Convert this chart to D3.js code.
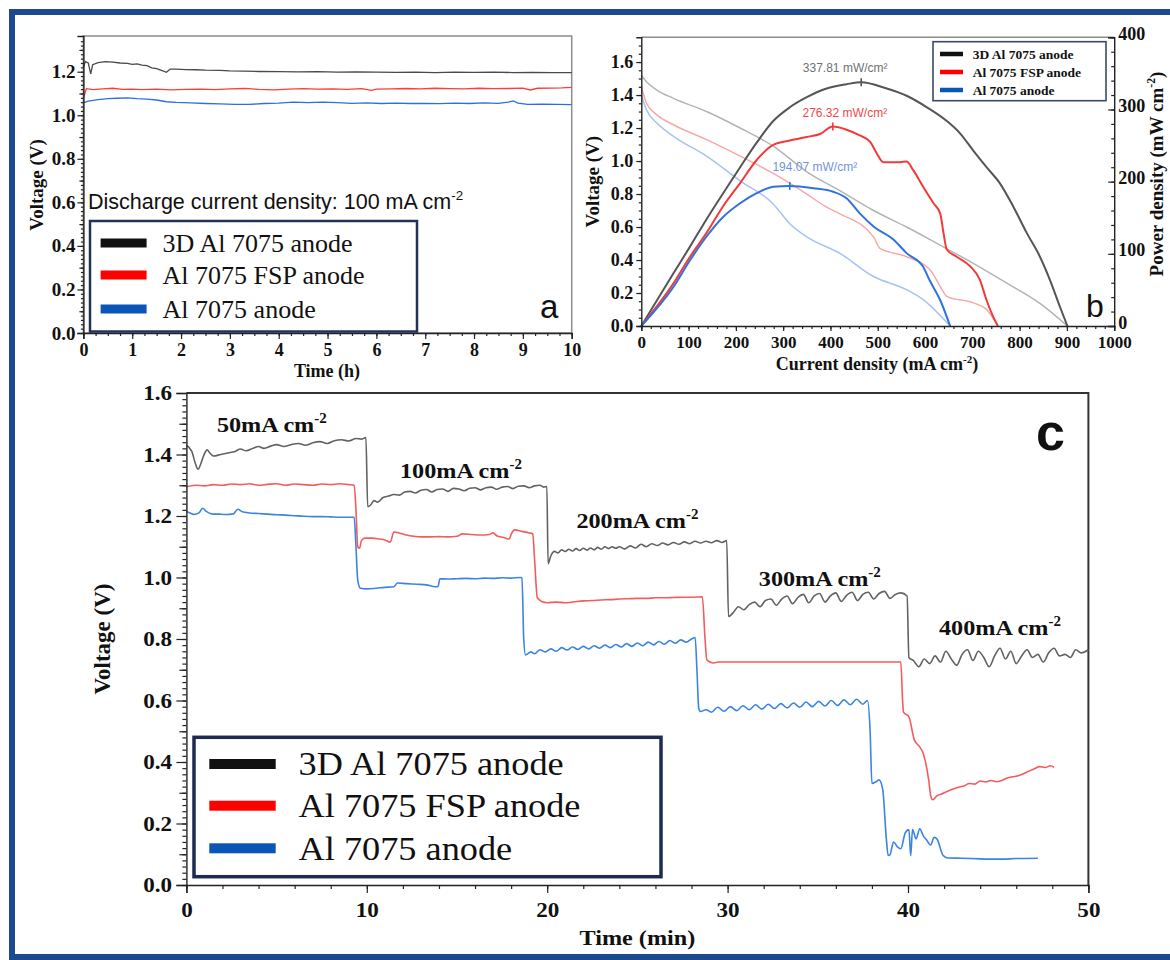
<!DOCTYPE html>
<html>
<head>
<meta charset="utf-8">
<script src="https://cdn.jsdelivr.net/npm/d3@7"></script>
<style>
  body { margin: 0; background: #fff; }
  text { font-family: 'Liberation Serif', 'Times New Roman', serif; fill: #111; }
  .sans { font-family: 'Liberation Sans', Arial, sans-serif; }
  .domain { stroke: #222; stroke-width: 1.4; }
  .tick line { stroke: #222; stroke-width: 1.2; }
</style>
</head>
<body>
<div id="chart"></div>
<script>
// ---------- panel a : discharge at 100 mA cm-2, time (h) vs voltage ----------
var aBlack = [[0,1.222],[0.04,1.246],[0.1,1.24],[0.15,1.19],[0.19,1.232],[0.3,1.242],[0.45,1.246],[0.6,1.244],
  [0.75,1.24],[0.9,1.238],[1.0,1.234],[1.1,1.236],[1.2,1.23],[1.3,1.228],[1.4,1.218],[1.5,1.214],[1.6,1.206],
  [1.7,1.197],[1.78,1.212],[1.9,1.212],[2.1,1.21],[2.3,1.209],[2.5,1.207],[2.8,1.206],[3.0,1.204],[3.3,1.203],
  [3.6,1.201],[4.0,1.2],[4.4,1.199],[4.8,1.2],[5.2,1.198],[5.6,1.199],[6.0,1.198],[6.4,1.197],[6.8,1.198],
  [7.2,1.196],[7.6,1.198],[8.0,1.197],[8.4,1.198],[8.8,1.196],[9.2,1.197],[9.6,1.196],[10,1.196]]
var aRed = [[0,1.08],[0.03,1.1],[0.06,1.122],[0.2,1.118],[0.4,1.121],[0.6,1.124],[0.8,1.119],[1.0,1.12],
  [1.2,1.118],[1.5,1.12],[1.8,1.117],[2.1,1.119],[2.4,1.12],[2.7,1.118],[3.0,1.121],[3.3,1.123],[3.6,1.119],
  [3.9,1.117],[4.2,1.12],[4.5,1.122],[4.8,1.12],[5.1,1.121],[5.4,1.119],[5.7,1.122],[5.9,1.114],[6.0,1.12],
  [6.3,1.121],[6.6,1.123],[6.9,1.121],[7.2,1.124],[7.5,1.122],[7.8,1.121],[8.1,1.124],[8.4,1.122],[8.7,1.123],
  [9.0,1.125],[9.15,1.116],[9.3,1.124],[9.6,1.125],[9.8,1.126],[10,1.128]]
var aBlue = [[0,1.057],[0.1,1.065],[0.3,1.072],[0.5,1.076],[0.7,1.078],[0.9,1.08],[1.1,1.076],[1.3,1.074],
  [1.5,1.07],[1.7,1.062],[1.9,1.059],[2.2,1.057],[2.5,1.054],[2.8,1.052],[3.1,1.05],[3.4,1.05],[3.7,1.054],
  [4.0,1.056],[4.3,1.06],[4.6,1.058],[4.9,1.06],[5.2,1.058],[5.5,1.055],[5.8,1.057],[6.1,1.054],[6.4,1.056],
  [6.7,1.054],[7.0,1.055],[7.3,1.053],[7.6,1.056],[7.9,1.054],[8.2,1.057],[8.5,1.055],[8.7,1.06],[8.8,1.066],
  [8.9,1.056],[9.1,1.05],[9.4,1.051],[9.7,1.05],[10,1.049]]
var aTimeTicks = [0,1,2,3,4,5,6,7,8,9,10]
var aVoltTicks = [0,0.2,0.4,0.6,0.8,1.0,1.2]

// ---------- panel b : polarization (voltage) and power density vs current ----------
var bBlackV = [[0,1.52],[11,1.48],[33,1.43],[68,1.38],[138,1.3],[209,1.2],[279,1.09],[350,0.935],[420,0.82],
  [491,0.7],[561,0.6],[632,0.49],[702,0.38],[773,0.26],[843,0.137],[901,0]]
var bRedV = [[0,1.45],[11,1.35],[33,1.28],[68,1.22],[138,1.13],[209,1.03],[279,0.925],[350,0.8],[392,0.72],
  [420,0.68],[491,0.54],[505,0.47],[561,0.42],[611,0.34],[632,0.24],[646,0.18],[702,0.14],[730,0.1],[754,0]]
var bBlueV = [[0,1.4],[11,1.31],[33,1.23],[68,1.15],[138,1.03],[209,0.88],[279,0.74],[314,0.62],[350,0.54],
  [420,0.44],[491,0.3],[561,0.22],[596,0.16],[653,0]]
var bBlackP = [[0,0],[68,73],[103,110],[138,148],[181,192],[209,220],[244,254],[279,284],[314,303],[350,317],
  [392,329],[434,335],[465,337.8],[519,329],[561,319],[604,303],[646,284],[674,267],[702,243],[730,220],
  [758,198],[787,165],[815,129],[843,96],[864,64],[885,27],[901,0]]
var bRedP = [[0,0],[68,59],[103,96],[138,129],[173,166],[209,198],[244,230],[279,251],[314,257],[350,262],
  [378,266],[405,276.3],[434,272],[462,264],[484,255],[498,239],[512,227],[547,227],[561,228],[575,216],
  [596,193],[618,170],[632,156],[639,129],[646,106],[667,96],[695,83],[716,64],[730,36],[744,13],[754,0]]
var bBlueP = [[0,0],[68,54],[103,91],[138,124],[173,151],[209,170],[244,184],[279,193],[314,194.1],[364,191],
  [406,186],[434,177],[462,156],[491,138],[533,120],[561,101],[596,82],[610,63],[632,36],[653,0]]
var bPeaks = [[465,337.81],[405,276.32],[314,194.07]]
var bPeakLabels = ['337.81 mW/cm²','276.32 mW/cm²','194.07 mW/cm²']
var bCurrentTicks = [0,100,200,300,400,500,600,700,800,900,1000]
var bVoltTicks = [0,0.2,0.4,0.6,0.8,1.0,1.2,1.4,1.6]
var bPowerTicks = [0,100,200,300,400]

// ---------- panel c : stepped current discharge, time (min) vs voltage ----------
var cBlack = [[0,1.43],[0.3,1.41],[0.5,1.37],[0.65,1.352],[0.8,1.37],[0.95,1.395],[1.15,1.415],[1.3,1.405],
  [1.5,1.395],[1.9,1.4],[2.3,1.405],[2.7,1.41],[3.0,1.418],[3.3,1.412],[3.7,1.42],[4.0,1.426],[4.3,1.42],
  [4.7,1.428],[5.0,1.432],[5.4,1.426],[5.8,1.432],[6.2,1.436],[6.6,1.43],[7.0,1.438],[7.4,1.442],[7.8,1.436],
  [8.2,1.445],[8.6,1.448],[9.0,1.444],[9.4,1.452],[9.7,1.45],[9.95,1.455],
  [10.05,1.23],[10.2,1.235],[10.4,1.25],[10.6,1.245],[10.9,1.26],[11.2,1.265],[11.5,1.27],[11.8,1.268],
  [12.1,1.278],[12.4,1.28],[12.7,1.275],[13.0,1.284],[13.3,1.286],[13.6,1.278],[13.9,1.286],[14.2,1.288],
  [14.5,1.28],[14.8,1.29],[15.1,1.288],[15.4,1.282],[15.7,1.29],[16.0,1.292],[16.3,1.285],[16.6,1.292],
  [16.9,1.294],[17.2,1.287],[17.5,1.294],[17.8,1.296],[18.1,1.289],[18.4,1.297],[18.7,1.298],[19.0,1.292],
  [19.3,1.298],[19.6,1.3],[19.8,1.294],[19.98,1.296],
  [20.05,1.045],[20.2,1.07],[20.4,1.085],[20.6,1.08],[20.8,1.09],[21.0,1.085],[21.2,1.092],[21.4,1.086],
  [21.6,1.094],[21.8,1.088],[22.0,1.095],[22.2,1.089],[22.4,1.096],[22.6,1.09],[22.8,1.098],[23.0,1.092],
  [23.2,1.1],[23.4,1.094],[23.6,1.1],[23.8,1.095],[24.0,1.1],[24.3,1.093],[24.6,1.103],[24.9,1.096],
  [25.2,1.108],[25.5,1.1],[25.8,1.11],[26.1,1.104],[26.4,1.112],[26.7,1.106],[27.0,1.114],[27.3,1.108],
  [27.6,1.116],[27.9,1.11],[28.2,1.118],[28.5,1.112],[28.8,1.118],[29.1,1.113],[29.4,1.12],[29.7,1.114],
  [29.95,1.12],
  [30.05,0.873],[30.3,0.885],[30.6,0.905],[30.9,0.895],[31.2,0.912],[31.5,0.92],[31.8,0.905],[32.1,0.925],
  [32.4,0.93],[32.7,0.91],[33.0,0.93],[33.3,0.94],[33.6,0.915],[33.9,0.935],[34.2,0.945],[34.5,0.918],
  [34.8,0.94],[35.1,0.948],[35.4,0.92],[35.7,0.94],[36.0,0.95],[36.3,0.922],[36.6,0.942],[36.9,0.952],
  [37.2,0.925],[37.5,0.945],[37.8,0.952],[38.1,0.93],[38.4,0.948],[38.7,0.955],[39.0,0.932],[39.3,0.945],
  [39.6,0.95],[39.95,0.94],
  [40.05,0.74],[40.3,0.73],[40.6,0.71],[40.9,0.735],[41.2,0.72],[41.5,0.745],[41.8,0.725],[42.1,0.76],
  [42.4,0.735],[42.7,0.715],[43.0,0.75],[43.3,0.765],[43.6,0.73],[43.9,0.76],[44.2,0.74],[44.5,0.71],
  [44.8,0.745],[45.1,0.77],[45.4,0.735],[45.7,0.76],[46.0,0.72],[46.3,0.745],[46.6,0.765],[46.9,0.74],
  [47.2,0.75],[47.5,0.725],[47.8,0.755],[48.1,0.77],[48.4,0.745],[48.7,0.75],[49.0,0.74],[49.3,0.765],
  [49.6,0.755],[50,0.765]]
var cRed = [[0,1.295],[0.5,1.3],[1.0,1.298],[1.5,1.302],[2.0,1.3],[2.5,1.304],[3.0,1.302],[3.5,1.305],[4.0,1.3],
  [4.5,1.303],[5.0,1.305],[5.5,1.3],[6.0,1.304],[6.5,1.302],[7.0,1.3],[7.5,1.304],[8.0,1.302],[8.5,1.305],
  [9.0,1.302],[9.3,1.3],[9.4,1.22],[9.5,1.1],[9.6,1.095],[9.7,1.12],[9.9,1.128],[10.3,1.128],[10.7,1.125],
  [11.0,1.122],[11.3,1.115],[11.5,1.148],[11.8,1.145],[12.2,1.138],[12.6,1.134],[13.0,1.132],[13.5,1.132],
  [14.0,1.133],[14.5,1.132],[15.0,1.134],[15.3,1.142],[15.8,1.14],[16.3,1.138],[16.8,1.14],[17.0,1.145],
  [17.2,1.136],[17.6,1.13],[17.9,1.125],[18.0,1.14],[18.2,1.155],[18.6,1.15],[19.0,1.145],[19.2,1.142],
  [19.3,1.06],[19.45,0.935],[19.7,0.922],[20.0,0.918],[20.5,0.92],[21.0,0.918],[21.5,0.921],[22.0,0.924],
  [22.5,0.925],[23.0,0.927],[23.5,0.928],[24.0,0.93],[24.5,0.931],[25.0,0.932],[25.5,0.932],[26.0,0.934],
  [26.5,0.934],[27.0,0.935],[27.5,0.936],[28.0,0.936],[28.6,0.937],[28.75,0.8],[28.85,0.732],[29.2,0.722],
  [29.5,0.725],[30,0.725],[32,0.725],[34,0.725],[36,0.725],[38,0.725],[39.6,0.725],[39.7,0.6],[39.75,0.562],
  [40.05,0.547],[40.35,0.472],[40.65,0.449],[40.85,0.427],[41.15,0.34],[41.26,0.29],[41.37,0.277],[41.6,0.29],
  [41.87,0.296],[42.2,0.305],[42.5,0.312],[42.8,0.318],[43.1,0.322],[43.4,0.33],[43.7,0.328],[44.0,0.338],
  [44.3,0.335],[44.6,0.34],[44.9,0.336],[45.2,0.34],[45.5,0.348],[45.8,0.352],[46.1,0.355],[46.4,0.362],
  [46.7,0.37],[47.0,0.378],[47.3,0.385],[47.6,0.382],[47.9,0.388],[48.1,0.383]]
var cBlue = [[0,1.215],[0.2,1.21],[0.4,1.205],[0.7,1.21],[0.9,1.225],[1.1,1.215],[1.4,1.207],[1.8,1.206],
  [2.2,1.205],[2.6,1.207],[2.85,1.222],[3.1,1.214],[3.5,1.21],[4.0,1.208],[4.5,1.206],[5.0,1.204],[5.5,1.203],
  [6.0,1.201],[6.5,1.199],[7.0,1.198],[7.5,1.198],[8.0,1.197],[8.5,1.196],[9.0,1.196],[9.3,1.196],[9.4,1.1],
  [9.5,0.99],[9.65,0.965],[10.0,0.963],[10.5,0.965],[11.0,0.968],[11.5,0.97],[11.7,0.982],[12.2,0.98],
  [12.8,0.978],[13.3,0.976],[13.8,0.97],[13.95,0.971],[14.05,0.996],[14.5,0.995],[15.0,0.996],[15.5,0.997],
  [16.0,0.996],[16.5,0.998],[17.0,0.997],[17.5,0.999],[18.0,0.998],[18.5,1.0],[18.6,0.999],[18.7,0.8],
  [18.8,0.748],[19.1,0.758],[19.3,0.752],[19.6,0.765],[19.9,0.758],[20.2,0.768],[20.5,0.76],[20.8,0.772],
  [21.1,0.764],[21.4,0.774],[21.7,0.766],[22.0,0.776],[22.3,0.768],[22.6,0.778],[22.9,0.77],[23.2,0.78],
  [23.5,0.772],[23.8,0.782],[24.1,0.774],[24.4,0.785],[24.7,0.776],[25.0,0.787],[25.3,0.778],[25.6,0.79],
  [25.9,0.781],[26.2,0.792],[26.5,0.783],[26.8,0.795],[27.1,0.786],[27.4,0.797],[27.7,0.79],[28.0,0.8],
  [28.2,0.805],[28.3,0.7],[28.4,0.575],[28.5,0.564],[28.8,0.57],[29.1,0.562],[29.45,0.578],[29.8,0.565],
  [30.15,0.58],[30.5,0.567],[30.85,0.583],[31.2,0.57],[31.55,0.586],[31.9,0.572],[32.25,0.588],[32.6,0.574],
  [32.95,0.59],[33.3,0.576],[33.65,0.592],[34.0,0.578],[34.35,0.595],[34.7,0.58],[35.05,0.597],[35.4,0.582],
  [35.75,0.6],[36.1,0.584],[36.45,0.602],[36.8,0.586],[37.15,0.604],[37.5,0.588],[37.75,0.6],[37.9,0.5],
  [38.0,0.33],[38.23,0.336],[38.4,0.342],[38.6,0.31],[38.8,0.15],[38.9,0.096],[39.0,0.098],[39.2,0.14],
  [39.4,0.125],[39.6,0.118],[39.85,0.17],[40.05,0.18],[40.15,0.095],[40.25,0.18],[40.45,0.15],[40.65,0.183],
  [40.85,0.16],[41.05,0.145],[41.25,0.13],[41.45,0.155],[41.6,0.15],[41.95,0.096],[42.2,0.088],[43,0.087],
  [44,0.085],[45,0.084],[46,0.086],[47.2,0.087]]
var cSteps = ['50mA cm','100mA cm','200mA cm','300mA cm','400mA cm']
var cTimeTicks = [0,10,20,30,40,50]
var cVoltTicks = [0,0.2,0.4,0.6,0.8,1.0,1.2,1.4,1.6]

var legendNames = ['3D Al 7075 anode','Al 7075 FSP anode','Al 7075 anode']
var legendColors = ['#111','#ff0000','#0b55b8']

// ---------------------------------------------------------------------------
var width = 1170
var height = 960

var svg = d3.select('#chart').append('svg')
  .attr('width', width)
  .attr('height', height)

// blue frame round the whole figure (its right side runs off the page)
svg.append('rect')
  .attr('x', 12).attr('y', 12)
  .attr('width', 1180).attr('height', 945)
  .attr('fill', 'none')
  .attr('stroke', '#1b4b8e')
  .attr('stroke-width', 6)

function minor(g, axis, values, size) {
  g.append('g').call(axis.tickValues(values).tickSize(size).tickFormat(''))
    .select('.domain').remove()
}

function supText(t, base, s, size, after) {
  t.append('tspan').text(base)
  t.append('tspan').attr('dy', -size * 0.4).attr('font-size', size * 0.62).text(s)
  if (after) t.append('tspan').attr('dy', size * 0.4).text(after)
}

function legend(g, x, y, w, h, rows, lineX, lineW, lineH, textX, size, bold, stroke, sw) {
  g.append('rect').attr('x', x).attr('y', y).attr('width', w).attr('height', h)
    .attr('fill', '#fff').attr('stroke', stroke).attr('stroke-width', sw)
  legendNames.forEach(function(name, i) {
    g.append('rect').attr('x', lineX).attr('y', rows[i] - lineH / 2)
      .attr('width', lineW).attr('height', lineH).attr('fill', legendColors[i])
    g.append('text').attr('x', textX).attr('y', rows[i] + size * 0.34)
      .attr('font-size', size).attr('font-weight', bold ? 'bold' : 'normal').text(name)
  })
}

// ============================ panel a ============================
var ga = svg.append('g')
var xa = d3.scaleLinear().domain([0, 10]).range([83.4, 571.7])
var ya = d3.scaleLinear().domain([0, 1.364]).range([333, 36])
var lineA = d3.line().x(d => xa(d[0])).y(d => ya(d[1]))

ga.append('rect').attr('x', xa(0)).attr('y', ya(1.364))
  .attr('width', xa(10) - xa(0)).attr('height', ya(0) - ya(1.364))
  .attr('fill', 'none').attr('stroke', '#8c8c8c').attr('stroke-width', 1.5)

;[[aBlack, '#4a4a4a'], [aRed, '#ff3b3b'], [aBlue, '#2d6fe0']].forEach(function(s) {
  ga.append('path').datum(s[0]).attr('d', lineA)
    .attr('fill', 'none').attr('stroke', s[1]).attr('stroke-width', 1.3)
})

var aLeft = ga.append('g').attr('transform', 'translate(' + xa(0) + ',0)')
minor(aLeft, d3.axisLeft(ya), d3.range(0, 1.36, 0.02), 2.5)
minor(aLeft, d3.axisLeft(ya), d3.range(0.1, 1.36, 0.2), 4)
aLeft.append('g').call(d3.axisLeft(ya).tickValues(aVoltTicks).tickSize(6).tickPadding(2).tickFormat(d3.format('.1f')))
  .selectAll('text').attr('font-size', 19).attr('font-weight', 'bold').attr('font-family', 'Liberation Serif')

var aBottom = ga.append('g').attr('transform', 'translate(0,' + ya(0) + ')')
minor(aBottom, d3.axisBottom(xa), d3.range(0, 10.01, 0.25), 3)
aBottom.append('g').call(d3.axisBottom(xa).tickValues(aTimeTicks).tickSize(6).tickFormat(d3.format('d')))
  .selectAll('text').attr('y', 23).attr('dy', 0).attr('font-size', 18).attr('font-weight', 'bold')
  .attr('font-family', 'Liberation Serif')

ga.append('text').attr('x', 327).attr('y', 377).attr('text-anchor', 'middle')
  .attr('font-size', 18).attr('font-weight', 'bold').text('Time (h)')
ga.append('text').attr('transform', 'translate(43,' + ya(0.68) + ') rotate(-90)')
  .attr('text-anchor', 'middle').attr('font-size', 19).attr('font-weight', 'bold').text('Voltage (V)')

var dis = ga.append('text').attr('class', 'sans').attr('x', 88).attr('y', 209).attr('font-size', 21.5)
supText(dis, 'Discharge current density: 100 mA cm', '-2', 21.5)

legend(ga, 90, 221, 327, 110.5, [243, 275, 309], 100.6, 46, 9, 162.6, 26, false, '#233355', 2.5)

ga.append('text').attr('class', 'sans').attr('x', 540).attr('y', 318).attr('font-size', 33).text('a')

// ============================ panel b ============================
var gb = svg.append('g')
var xb = d3.scaleLinear().domain([0, 1000]).range([641.3, 1114.2])
var yb = d3.scaleLinear().domain([0, 1.75]).range([326, 37.3])
var yp = d3.scaleLinear().domain([0, 400]).range([326, 37.3])
var lineBV = d3.line().x(d => xb(d[0])).y(d => yb(d[1])).curve(d3.curveMonotoneX)
var lineBP = d3.line().x(d => xb(d[0])).y(d => yp(d[1])).curve(d3.curveMonotoneX)

gb.append('line').attr('x1', xb(0)).attr('x2', xb(1000)).attr('y1', yb(1.75)).attr('y2', yb(1.75))
  .attr('stroke', '#8c8c8c').attr('stroke-width', 1.5)

;[[bBlackV, '#b4b4b4'], [bRedV, '#f7a8a8'], [bBlueV, '#a6c3f2']].forEach(function(s) {
  gb.append('path').datum(s[0]).attr('d', lineBV)
    .attr('fill', 'none').attr('stroke', s[1]).attr('stroke-width', 1.5)
})
var pColors = ['#555', '#f23a3a', '#2f72dc']
;[bBlackP, bRedP, bBlueP].forEach(function(s, i) {
  gb.append('path').datum(s).attr('d', lineBP)
    .attr('fill', 'none').attr('stroke', pColors[i]).attr('stroke-width', 2)
})

var labelColors = ['#707070', '#f04848', '#6f95dc']
var labelShift = [[-16, -10], [12, -10], [25, -15]]
bPeaks.forEach(function(p, i) {
  gb.append('line').attr('x1', xb(p[0])).attr('x2', xb(p[0]))
    .attr('y1', yp(p[1]) - 4).attr('y2', yp(p[1]) + 4)
    .attr('stroke', pColors[i]).attr('stroke-width', 1.6)
  gb.append('text').attr('class', 'sans')
    .attr('x', xb(p[0]) + labelShift[i][0]).attr('y', yp(p[1]) + labelShift[i][1])
    .attr('text-anchor', 'middle').attr('font-size', 12).style('fill', labelColors[i])
    .text(bPeakLabels[i])
})

var bLeft = gb.append('g').attr('transform', 'translate(' + xb(0) + ',0)')
minor(bLeft, d3.axisLeft(yb), d3.range(0, 1.75, 0.05), 2.5)
bLeft.append('g').call(d3.axisLeft(yb).tickValues(bVoltTicks).tickSize(5).tickPadding(3).tickFormat(d3.format('.1f')))
  .selectAll('text').attr('font-size', 18).attr('font-weight', 'bold').attr('font-family', 'Liberation Serif')

var bRight = gb.append('g').attr('transform', 'translate(' + xb(1000) + ',0)')
minor(bRight, d3.axisRight(yp), d3.range(0, 401, 20), -3)
bRight.append('g').call(d3.axisRight(yp).tickValues(bPowerTicks).tickSize(-6).tickPadding(4).tickFormat(d3.format('d')))
  .selectAll('text').attr('dy', '0.12em').attr('font-size', 18).attr('font-weight', 'bold')
  .attr('font-family', 'Liberation Serif')

var bBottom = gb.append('g').attr('transform', 'translate(0,' + yb(0) + ')')
minor(bBottom, d3.axisBottom(xb), d3.range(0, 1001, 20), 3)
bBottom.append('g').call(d3.axisBottom(xb).tickValues(bCurrentTicks).tickSize(5).tickFormat(d3.format('d')))
  .selectAll('text').attr('y', 22).attr('dy', 0).attr('font-size', 17).attr('font-weight', 'bold')
  .attr('font-family', 'Liberation Serif')

var bx = gb.append('text').attr('x', 877).attr('y', 370).attr('text-anchor', 'middle')
  .attr('font-size', 18).attr('font-weight', 'bold')
supText(bx, 'Current density (mA cm', '-2', 18, ')')
gb.append('text').attr('transform', 'translate(599,' + yb(0.875) + ') rotate(-90)')
  .attr('text-anchor', 'middle').attr('font-size', 19).attr('font-weight', 'bold').text('Voltage (V)')
var by = gb.append('text').attr('transform', 'translate(1163,174) rotate(-90)')
  .attr('text-anchor', 'middle').attr('font-size', 19).attr('font-weight', 'bold')
supText(by, 'Power density (mW cm', '-2', 19, ')')

legend(gb, 933, 41.7, 173, 59, [54, 72, 90], 940, 23, 4.5, 972.7, 13.5, true, '#3a4a6b', 1.6)

gb.append('text').attr('class', 'sans').attr('x', 1086).attr('y', 317).attr('font-size', 32).text('b')

// ============================ panel c ============================
var gc = svg.append('g')
var xc = d3.scaleLinear().domain([0, 50]).range([186.4, 1088.4])
var yc = d3.scaleLinear().domain([0, 1.6]).range([885, 393])
var lineC = d3.line().x(d => xc(d[0])).y(d => yc(d[1])).curve(d3.curveMonotoneX)
var sx = 'scale(1.1,1)'   // panel c lettering is a little wider than plain Times

gc.append('path')
  .attr('d', 'M' + xc(0) + ',' + yc(1.6) + 'H' + xc(50) + 'V' + yc(0))
  .attr('fill', 'none').attr('stroke', '#333').attr('stroke-width', 2)

;[[cBlack, '#626262'], [cRed, '#f45c5c'], [cBlue, '#3b84e6']].forEach(function(s) {
  gc.append('path').datum(s[0]).attr('d', lineC)
    .attr('fill', 'none').attr('stroke', s[1]).attr('stroke-width', 1.6)
})

var cLeft = gc.append('g').attr('transform', 'translate(' + xc(0) + ',0)')
minor(cLeft, d3.axisLeft(yc), d3.range(0, 1.6, 0.02), 4)
minor(cLeft, d3.axisLeft(yc), d3.range(0.1, 1.6, 0.2), 7)
cLeft.append('g').call(d3.axisLeft(yc).tickValues(cVoltTicks).tickSize(10).tickPadding(3).tickFormat(d3.format('.1f')))
  .selectAll('text').attr('font-size', 21).attr('font-weight', 'bold').attr('font-family', 'Liberation Serif')
  .attr('transform', sx)
cLeft.selectAll('.domain').attr('stroke-width', 2)

var cBottom = gc.append('g').attr('transform', 'translate(0,' + yc(0) + ')')
minor(cBottom, d3.axisBottom(xc), d3.range(0, 50.1, 2), 4)
cBottom.append('g').call(d3.axisBottom(xc).tickValues(cTimeTicks).tickSize(8).tickFormat(d3.format('d')))
  .selectAll('text').attr('y', 32).attr('dy', 0).attr('font-size', 21).attr('font-weight', 'bold')
  .attr('font-family', 'Liberation Serif').attr('transform', sx)
cBottom.selectAll('.domain').attr('stroke-width', 2)

gc.append('text').attr('transform', 'translate(' + xc(25) + ',945) ' + sx)
  .attr('text-anchor', 'middle').attr('font-size', 22).attr('font-weight', 'bold').text('Time (min)')
gc.append('text').attr('transform', 'translate(110,' + yc(0.8) + ') rotate(-90)')
  .attr('text-anchor', 'middle').attr('font-size', 23).attr('font-weight', 'bold').text('Voltage (V)')

var stepPos = [[1.69, 1.474], [11.84, 1.324], [21.62, 1.161], [31.73, 0.972], [41.72, 0.813]]
cSteps.forEach(function(s, i) {
  var t = gc.append('text')
    .attr('transform', 'translate(' + xc(stepPos[i][0]) + ',' + yc(stepPos[i][1]) + ') ' + sx)
    .attr('font-size', 22).attr('font-weight', 'bold')
  supText(t, s, '-2', 22)
})

var cl = gc.append('g')
legend(cl, 194, 737.3, 467, 139.4, [764, 805.7, 848.3], 209.3, 66.4, 10, 298.6, 33, false, '#1c2b4f', 3.5)
cl.selectAll('text').each(function() {
  var t = d3.select(this)
  t.attr('transform', 'translate(' + t.attr('x') + ',' + t.attr('y') + ') ' + sx).attr('x', 0).attr('y', 0)
})

gc.append('text').attr('class', 'sans').attr('x', 1036).attr('y', 450)
  .attr('font-size', 52).attr('font-weight', 'bold').text('c')
</script>
</body>
</html>
